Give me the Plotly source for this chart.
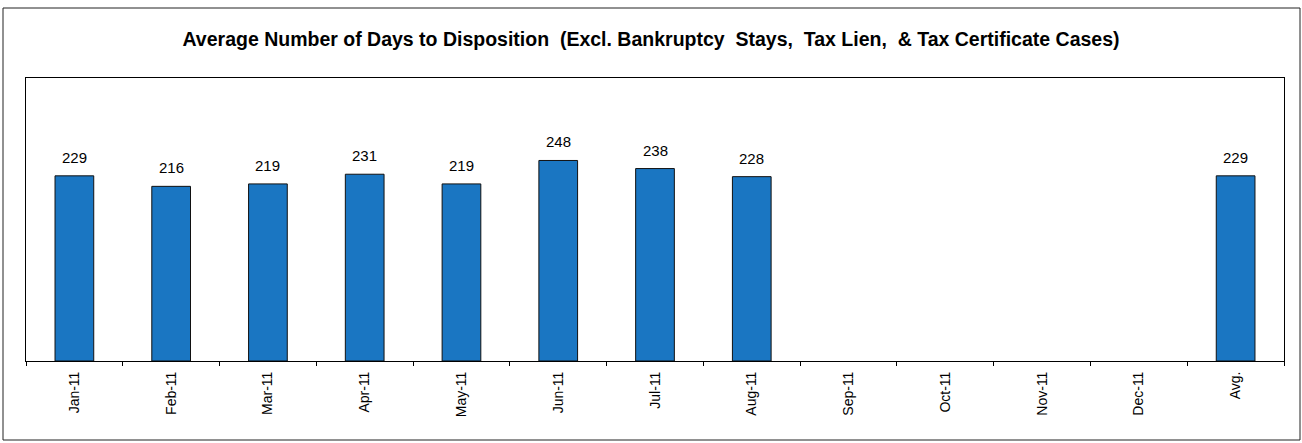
import plotly.graph_objects as go

categories = ["Jan-11", "Feb-11", "Mar-11", "Apr-11", "May-11", "Jun-11", "Jul-11",
              "Aug-11", "Sep-11", "Oct-11", "Nov-11", "Dec-11", "Avg."]
days = [229, 216, 219, 231, 219, 248, 238, 228, None, None, None, None, 229]

W, H = 1302, 443
L, R, T, B = 26, 18, 78, 82
pw, ph = W - L - R, H - T - B
FONT = "Liberation Sans, Arial"

fig = go.Figure(go.Bar(
    x=categories, y=days,
    marker=dict(color="#1a76c2", line=dict(color="#111111", width=1)),
    width=0.4,
))

for c, v in zip(categories, days):
    if v is not None:
        fig.add_annotation(x=c, y=v, text=str(v), showarrow=False, yanchor="bottom",
                           yshift=8, font=dict(family=FONT, size=15, color="black"))

fig.update_layout(
    width=W, height=H,
    margin=dict(l=L, r=R, t=T, b=B),
    paper_bgcolor="white", plot_bgcolor="white",
    showlegend=False,
    title=dict(text="<b>Average Number of Days to Disposition  (Excl. Bankruptcy  Stays,  Tax Lien,  & Tax Certificate Cases)</b>",
               x=0.5, xanchor="center", y=1 - 39 / H, yanchor="middle",
               font=dict(family=FONT, size=19.5, color="black")),
    font=dict(family=FONT, color="black"),
    xaxis=dict(type="category", tickangle=-90, tickson="boundaries", ticks="outside",
               ticklen=4, tickcolor="black", showline=True, linecolor="black", mirror=True,
               ticklabelstandoff=4,
               tickfont=dict(size=14, color="black")),
    yaxis=dict(range=[0, 350], showticklabels=False, showgrid=False, zeroline=False,
               showline=True, linecolor="black", mirror=True, ticks=""),
)

fig.add_shape(type="rect", xref="paper", yref="paper",
              x0=(3 - L) / pw, x1=(1300 - L) / pw,
              y0=-(440 - (H - B)) / ph, y1=((H - B) - 8) / ph,
              line=dict(color="#222222", width=1), fillcolor="rgba(0,0,0,0)", layer="below")

fig.write_html("out.html", config={"displayModeBar": False},
               post_script="document.body.style.margin='0';")
